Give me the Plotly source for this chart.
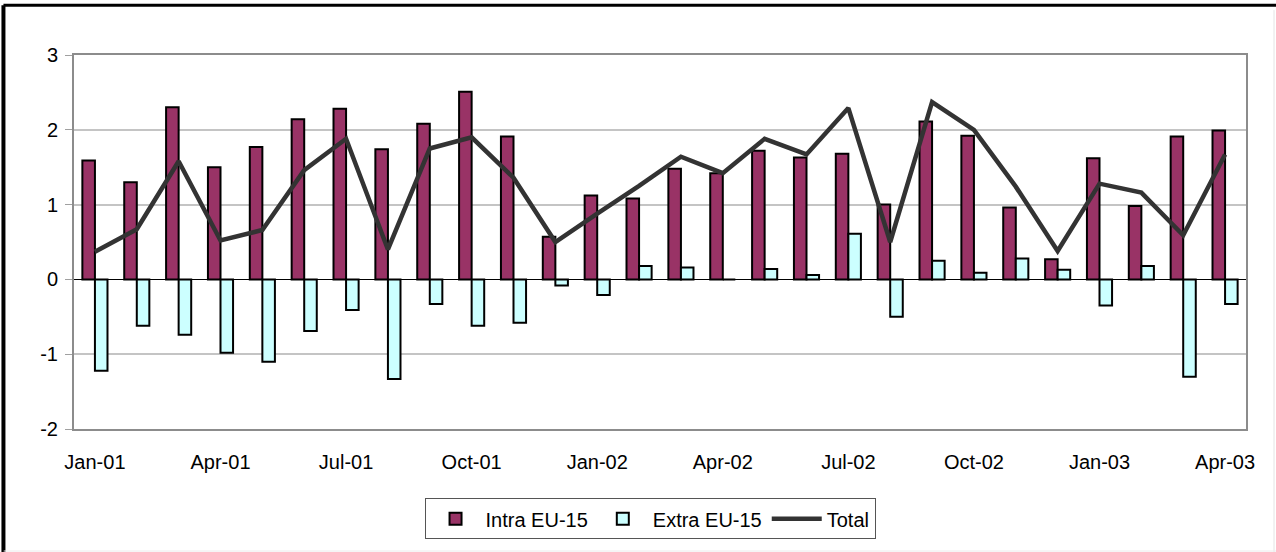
import plotly.graph_objects as go

months = ["Jan-01", "Feb-01", "Mar-01", "Apr-01", "May-01", "Jun-01", "Jul-01",
          "Aug-01", "Sep-01", "Oct-01", "Nov-01", "Dec-01", "Jan-02", "Feb-02",
          "Mar-02", "Apr-02", "May-02", "Jun-02", "Jul-02", "Aug-02", "Sep-02",
          "Oct-02", "Nov-02", "Dec-02", "Jan-03", "Feb-03", "Mar-03", "Apr-03"]

intra_eu15 = [1.59, 1.30, 2.30, 1.50, 1.77, 2.14, 2.28, 1.74, 2.08, 2.51,
              1.91, 0.57, 1.12, 1.08, 1.48, 1.42, 1.72, 1.63, 1.68, 1.00,
              2.11, 1.92, 0.96, 0.27, 1.62, 0.98, 1.91, 1.99]

extra_eu15 = [-1.22, -0.62, -0.74, -0.98, -1.10, -0.69, -0.41, -1.33, -0.33, -0.62,
              -0.58, -0.08, -0.21, 0.18, 0.16, 0.0, 0.14, 0.06, 0.61, -0.50,
              0.25, 0.09, 0.28, 0.13, -0.35, 0.18, -1.30, -0.33]

total = [0.37, 0.67, 1.58, 0.52, 0.66, 1.46, 1.88, 0.40, 1.75, 1.90,
         1.36, 0.50, 0.88, 1.25, 1.64, 1.42, 1.88, 1.67, 2.29, 0.50,
         2.37, 2.00, 1.24, 0.38, 1.28, 1.16, 0.59, 1.67]

x_tick_labels = ["Jan-01", "Apr-01", "Jul-01", "Oct-01", "Jan-02", "Apr-02",
                 "Jul-02", "Oct-02", "Jan-03", "Apr-03"]
y_tick_vals = [-2, -1, 0, 1, 2, 3]
y_tick_text = ["-2", "-1", "0", "1", "2", "3"]

FONT = "Liberation Sans, Arial, sans-serif"

fig = go.Figure()
fig.add_trace(go.Bar(x=months, y=intra_eu15, name="Intra EU-15",
                     marker=dict(color="#993366", line=dict(color="black", width=2))))
fig.add_trace(go.Bar(x=months, y=extra_eu15, name="Extra EU-15",
                     marker=dict(color="#CCFFFF", line=dict(color="black", width=2))))
fig.add_trace(go.Scatter(x=months, y=total, name="Total", mode="lines",
                         line=dict(color="#333333", width=4.5)))

fig.update_layout(
    width=1276, height=552,
    margin=dict(l=74, r=30, t=55, b=123),
    paper_bgcolor="white", plot_bgcolor="white",
    font=dict(family=FONT, size=20, color="black"),
    barmode="group", bargap=0.4, bargroupgap=0,
    showlegend=True,
    legend=dict(orientation="h", x=0.4915, xanchor="center", y=-0.185, yanchor="top",
                bordercolor="#555555", borderwidth=1, font=dict(size=20, family=FONT),
                itemwidth=50, tracegroupgap=0, bgcolor="white"),
    shapes=[
        dict(type="line", xref="paper", yref="paper", x0=-0.0602, x1=1.2,
             y0=1.1329, y1=1.1329, line=dict(color="black", width=3)),
        dict(type="line", xref="paper", yref="paper", x0=-0.0602, x1=-0.0602,
             y0=1.1329, y1=-0.4, line=dict(color="black", width=4)),
        dict(type="line", xref="paper", yref="paper", x0=(1274 - 74) / 1172, x1=(1274 - 74) / 1172,
             y0=1.12, y1=-0.4, line=dict(color="#e4e4e4", width=1)),
        dict(type="line", xref="paper", yref="paper", x0=-0.06, x1=1.2,
             y0=(429 - 551) / 374, y1=(429 - 551) / 374, line=dict(color="#ececec", width=1)),
    ],
)

fig.update_xaxes(
    type="category",
    tickmode="array", tickvals=x_tick_labels, ticktext=x_tick_labels,
    showgrid=False, showline=True, linecolor="#8c8c8c", linewidth=2, mirror=True,
    ticks="outside", ticklen=14, tickcolor="rgba(0,0,0,0)",
    tickfont=dict(size=20, family=FONT),
)
fig.update_yaxes(
    range=[-2, 3], tickmode="array", tickvals=y_tick_vals, ticktext=y_tick_text,
    showgrid=True, gridcolor="#c4c4c4", gridwidth=2,
    zeroline=True, zerolinecolor="black", zerolinewidth=1,
    showline=True, linecolor="#8c8c8c", linewidth=2, mirror=True,
    ticks="outside", ticklen=7, tickcolor="#a0a0a0", tickwidth=1,
    ticklabelstandoff=3,
    tickfont=dict(size=20, family=FONT),
)

fig.write_html("out.html", config={"displayModeBar": False},
               post_script="document.body.style.margin='0';")
